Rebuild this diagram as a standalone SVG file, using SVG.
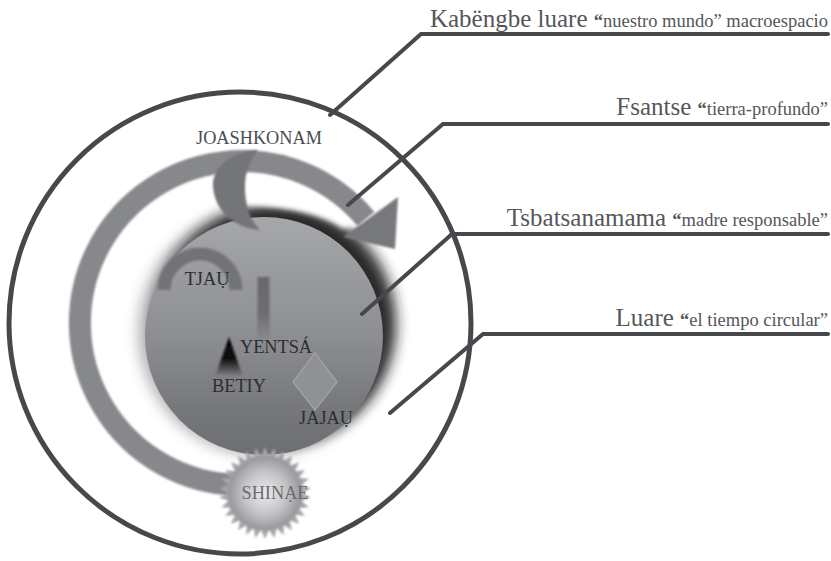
<svg xmlns="http://www.w3.org/2000/svg" width="831" height="561" viewBox="0 0 831 561">
<style>
.lead{fill:none;stroke:#47484c;stroke-width:4;stroke-linecap:round;stroke-linejoin:miter}
.cap{font-family:"Liberation Serif","Times New Roman",serif;fill:#55565a;text-anchor:end}
.big{font-size:25px}
.sm{font-size:18.5px}
.qt{font-weight:bold}
.lab{font-family:"Liberation Serif","Times New Roman",serif;font-size:18.3px;fill:#2c2d31;text-anchor:middle}
</style>
<defs>
<filter id="b1" x="-20%" y="-20%" width="140%" height="140%"><feGaussianBlur stdDeviation="1"/></filter>
<filter id="b2" x="-20%" y="-20%" width="140%" height="140%"><feGaussianBlur stdDeviation="2.5"/></filter>
<filter id="b6" x="-30%" y="-30%" width="160%" height="160%"><feGaussianBlur stdDeviation="7"/></filter>
<linearGradient id="disk" x1="0" y1="0" x2="0" y2="1"><stop offset="0" stop-color="#a6a7aa"/><stop offset=".5" stop-color="#8d8e92"/><stop offset=".8" stop-color="#77787c"/><stop offset="1" stop-color="#6d6e72"/></linearGradient>
<linearGradient id="tri" x1="0" y1="0" x2="0" y2="1"><stop offset="0" stop-color="#000"/><stop offset=".55" stop-color="#111"/><stop offset="1" stop-color="#85868a"/></linearGradient>
<linearGradient id="bar" x1="0" y1="0" x2="0" y2="1"><stop offset="0" stop-color="#68696d"/><stop offset=".6" stop-color="#6d6e72"/><stop offset="1" stop-color="#8a8b8f"/></linearGradient>
<radialGradient id="sun"><stop offset="0" stop-color="#ececed"/><stop offset=".55" stop-color="#c4c5c7"/><stop offset="1" stop-color="#939497"/></radialGradient>
<polygon id="spike" points="-3.8,-37 0,-46 3.8,-37" fill="#a4a5a8"/>
</defs>
<rect width="831" height="561" fill="#fff"/>
<g id="kabengbe-luare"><circle cx="240" cy="323" r="231" fill="none" stroke="#47484c" stroke-width="5"/></g>
<g id="fsantse">
<circle cx="262" cy="332" r="124" fill="#77787c" opacity=".55" filter="url(#b6)"/>
<circle cx="276" cy="324" r="120" fill="#1a1b1f" opacity=".92" filter="url(#b6)"/>
<path d="M245 172A151 151 0 0 1 361 224L343 228Q312 208 245 205Z" fill="#fff" filter="url(#b2)"/></g>
<g id="luare">
<path d="M236 485A162 162 0 1 1 366 219" fill="none" stroke="#87888c" stroke-width="22" filter="url(#b1)"/>
<polygon points="398,197 395,249 343,237" fill="#77787c" filter="url(#b1)"/>
</g>
<g id="tsbatsanamama"><circle cx="264" cy="336" r="119" fill="url(#disk)"/></g>
<g id="joashkonam">
<path d="M258 150C228 152 213 170 213 184C213 208 232 228 260 230C248 218 245 203 245 187C245 172 250 160 258 150Z" fill="#737478" filter="url(#b1)"/>
<text class="lab" x="259" y="144" style="fill:#4b4c50">JOASHKONAM</text>
</g>
<g id="tjau">
<path d="M164 290A36 36 0 0 1 236 290" fill="none" stroke="#727377" stroke-width="13" filter="url(#b1)"/>
<text class="lab" x="207" y="285">TJAỤ</text>
</g>
<g id="yentsa">
<rect x="257.5" y="277" width="12" height="63" fill="url(#bar)" filter="url(#b1)"/>
<text class="lab" x="276" y="353">YENTSÁ</text>
</g>
<g id="betiy">
<polygon points="229,337 243,377 215,377" fill="url(#tri)" filter="url(#b1)"/>
<text class="lab" x="239" y="392">BETIY</text>
</g>
<g id="jajau">
<polygon points="315,353 337,382 315,410 293,382" fill="#909195" stroke="#a6a7aa" stroke-width="1.2"/>
<text class="lab" x="326" y="424">JAJAỤ</text>
</g>
<g id="shinae">
<g filter="url(#b1)">
<circle cx="265" cy="493" r="38" fill="url(#sun)"/>
<g transform="translate(265 493)">
<use href="#spike"/><use href="#spike" transform="rotate(12)"/><use href="#spike" transform="rotate(24)"/><use href="#spike" transform="rotate(36)"/><use href="#spike" transform="rotate(48)"/><use href="#spike" transform="rotate(60)"/><use href="#spike" transform="rotate(72)"/><use href="#spike" transform="rotate(84)"/><use href="#spike" transform="rotate(96)"/><use href="#spike" transform="rotate(108)"/><use href="#spike" transform="rotate(120)"/><use href="#spike" transform="rotate(132)"/><use href="#spike" transform="rotate(144)"/><use href="#spike" transform="rotate(156)"/><use href="#spike" transform="rotate(168)"/><use href="#spike" transform="rotate(180)"/><use href="#spike" transform="rotate(192)"/><use href="#spike" transform="rotate(204)"/><use href="#spike" transform="rotate(216)"/><use href="#spike" transform="rotate(228)"/><use href="#spike" transform="rotate(240)"/><use href="#spike" transform="rotate(252)"/><use href="#spike" transform="rotate(264)"/><use href="#spike" transform="rotate(276)"/><use href="#spike" transform="rotate(288)"/><use href="#spike" transform="rotate(300)"/><use href="#spike" transform="rotate(312)"/><use href="#spike" transform="rotate(324)"/><use href="#spike" transform="rotate(336)"/><use href="#spike" transform="rotate(348)"/>
</g>
</g>
<text class="lab" x="275" y="499" style="fill:#6a6b6f">SHINẠE</text>
</g>
<g id="connectors">
<path class="lead" d="M330 115L421 34H828"/>
<path class="lead" d="M348 205L443 124H828"/>
<path class="lead" d="M362 314L452 234H828"/>
<path class="lead" d="M390 413L483 334H828"/>
</g>
<g id="captions">
<text class="cap" x="828" y="27"><tspan class="big">Kabëngbe luare </tspan><tspan class="sm"><tspan class="qt">“</tspan>nuestro mundo” macroespacio</tspan></text>
<text class="cap" x="828" y="115"><tspan class="big">Fsantse </tspan><tspan class="sm"><tspan class="qt">“</tspan>tierra-profundo”</tspan></text>
<text class="cap" x="828" y="226"><tspan class="big">Tsbatsanamama </tspan><tspan class="sm"><tspan class="qt">“</tspan>madre responsable”</tspan></text>
<text class="cap" x="828" y="326"><tspan class="big">Luare </tspan><tspan class="sm"><tspan class="qt">“</tspan>el tiempo circular”</tspan></text>
</g>
</svg>
